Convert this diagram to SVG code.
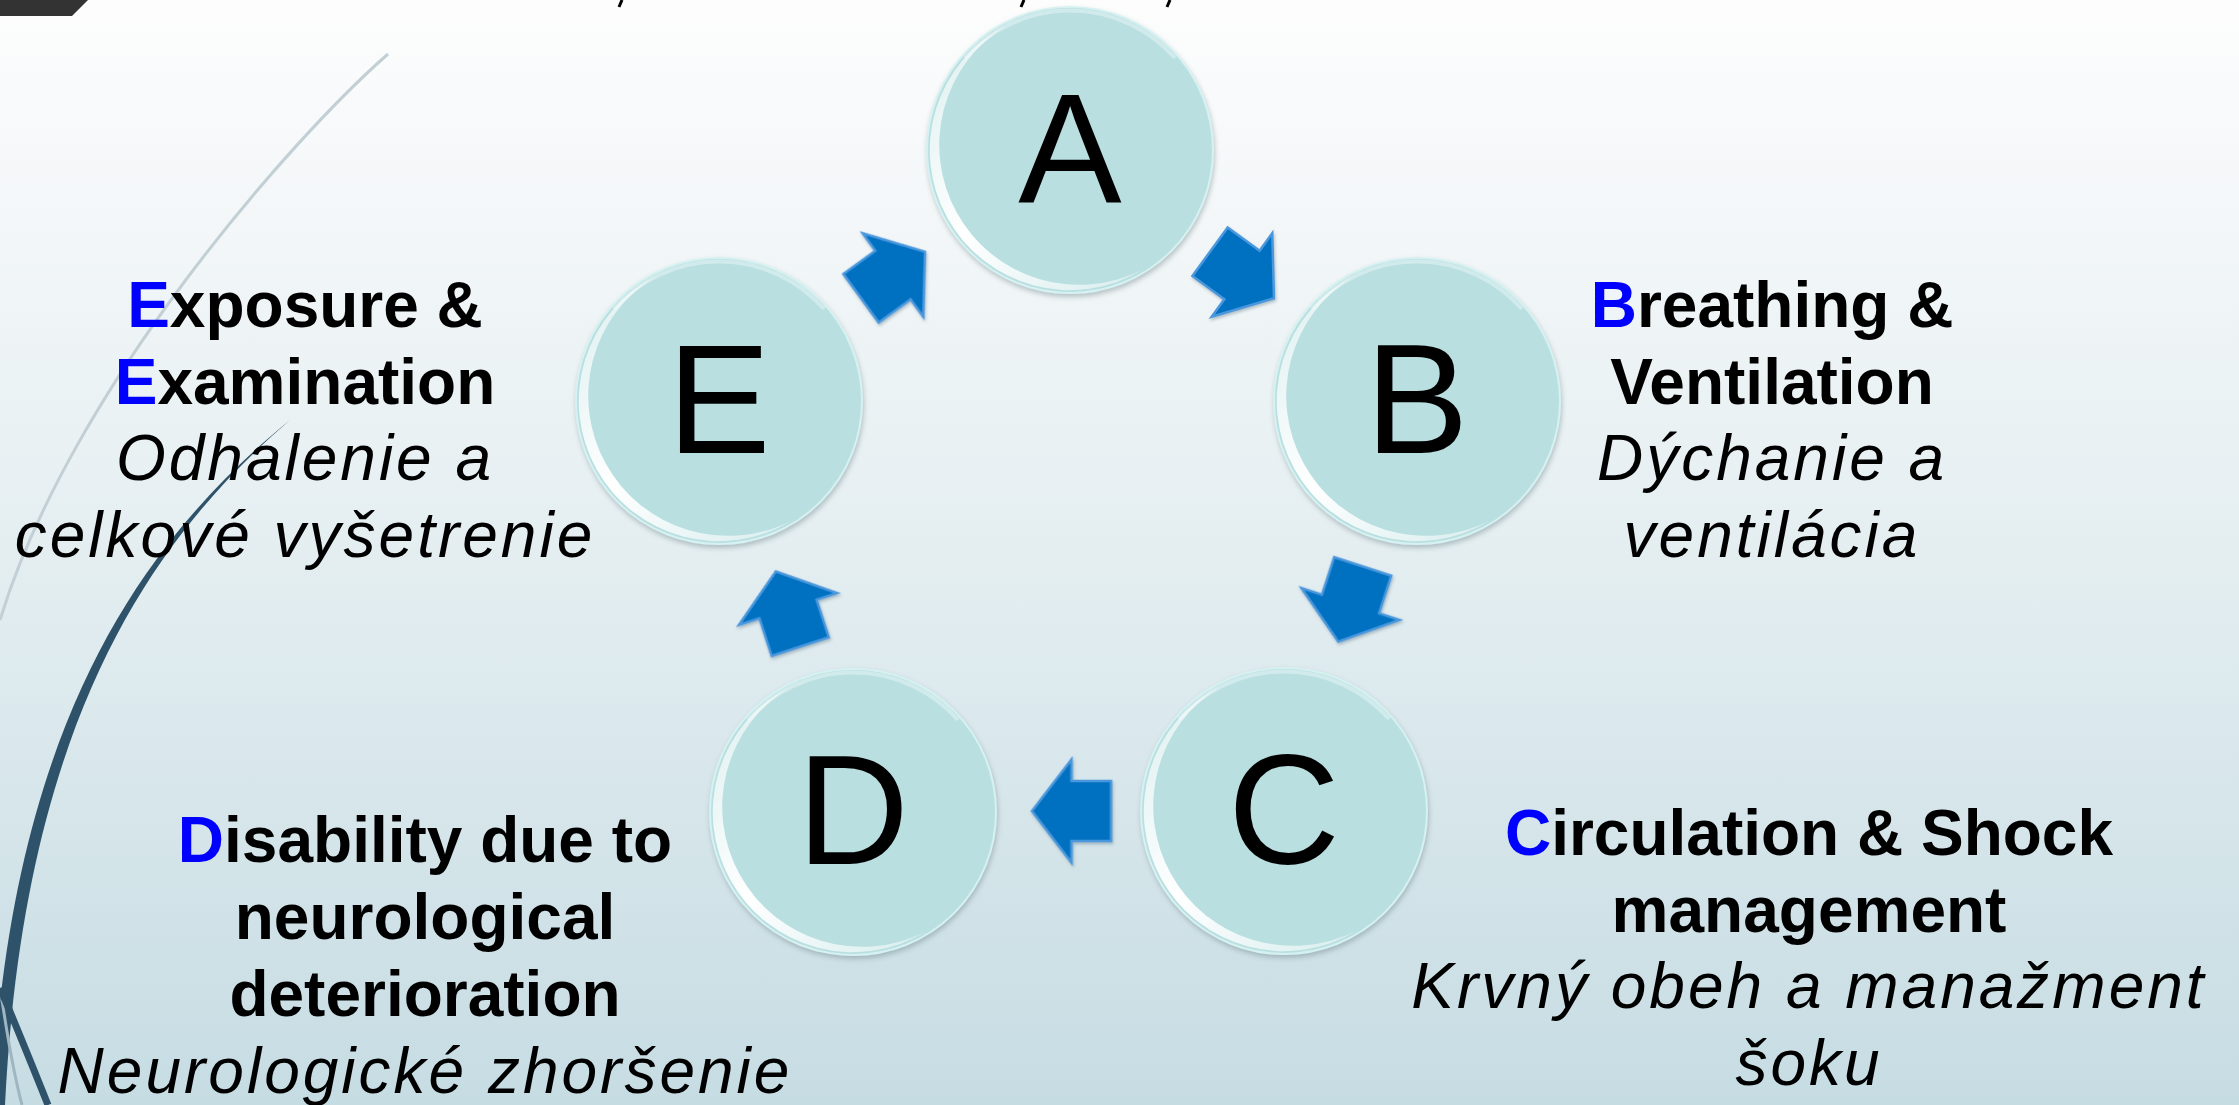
<svg xmlns="http://www.w3.org/2000/svg" xmlns:xlink="http://www.w3.org/1999/xlink" width="2239" height="1105" viewBox="0 0 2239 1105">
  <defs>
    <linearGradient id="bg" x1="0" y1="0" x2="0" y2="1">
      <stop offset="0" stop-color="#fdfdfd"/>
      <stop offset="0.12" stop-color="#f7f9fa"/>
      <stop offset="0.5" stop-color="#e4eef1"/>
      <stop offset="1" stop-color="#c6dce3"/>
    </linearGradient>
    <linearGradient id="crescentGrad" gradientUnits="userSpaceOnUse" x1="-140" y1="-70" x2="70" y2="140">
      <stop offset="0" stop-color="#ffffff" stop-opacity="0.6"/>
      <stop offset="0.45" stop-color="#ffffff" stop-opacity="1"/>
      <stop offset="1" stop-color="#ffffff" stop-opacity="0.45"/>
    </linearGradient>
    <filter id="shadow" x="-20%" y="-20%" width="140%" height="140%">
      <feDropShadow dx="1" dy="3" stdDeviation="2.5" flood-color="#6f8489" flood-opacity="0.45"/>
    </filter>
    <filter id="ashadow" x="-30%" y="-30%" width="160%" height="160%">
      <feDropShadow dx="1" dy="2" stdDeviation="1.5" flood-color="#3d5a6b" flood-opacity="0.35"/>
    </filter>
    <g id="bubble">
      <circle r="143" fill="#b9dfe0" stroke="#d6f1f1" stroke-width="2" filter="url(#shadow)"/>
      <path d="M -63.44 -124.79 A 140 140 0 1 0 72.44 119.79 A 140 140 0 0 1 -63.44 -124.79 Z" fill="url(#crescentGrad)"/>
      <path d="M -105 -92 A 140 140 0 0 1 105 -92" fill="none" stroke="#ffffff" stroke-opacity="0.35" stroke-width="4"/>
    </g>
    <path id="arrow" d="M -39.5 -30 L 0 -30 L 0 -51.5 L 39.5 0 L 0 51.5 L 0 30 L -39.5 30 Z"/>
  </defs>
  <style>
    .letter { font-family: "Liberation Sans", Arial, sans-serif; font-size: 155px; fill: #000000; text-anchor: middle; }
    .lb { font-family: "Liberation Sans", Arial, sans-serif; font-size: 64px; font-weight: bold; fill: #000000; text-anchor: middle; }
    .li { font-family: "Liberation Sans", Arial, sans-serif; font-size: 64px; font-style: italic; fill: #000000; text-anchor: middle; letter-spacing: 3px; }
    .blue { fill: #0000ff; }
    .arr { fill: #0070c0; stroke: #4a97dc; stroke-width: 2.5; stroke-linejoin: miter; }
  </style>

  <!-- background -->
  <rect x="0" y="0" width="2239" height="1105" fill="url(#bg)"/>

  <!-- decorative theme lines -->
  <g id="decor">
    <polygon points="0,0 88,0 72,16 0,16" fill="#333333"/>
    <path d="M 388 54 C 290 140, 70 390, 0 620" fill="none" stroke="#c2d0d6" stroke-width="3"/>
    <path d="M 290 420 C 150 541, 24 722, 5 1105 L -8 1105 C 10 720, 146 538, 290 420 Z" fill="#2e5269"/>
    <path d="M 2 1000 C 8 1040, 14 1075, 22 1105" fill="none" stroke="#9fb6c1" stroke-width="3"/>
    <path d="M 0 988 C 18 1030, 34 1070, 48 1105" fill="none" stroke="#2e5269" stroke-width="7"/>
    <line x1="622" y1="0" x2="619" y2="7" stroke="#000" stroke-width="3"/>
    <line x1="1024" y1="0" x2="1021" y2="7" stroke="#000" stroke-width="3"/>
    <line x1="1170" y1="0" x2="1167" y2="7" stroke="#000" stroke-width="3"/>
  </g>

  <!-- connectors -->
  <g id="connectors" filter="url(#ashadow)">
    <use xlink:href="#arrow" class="arr" transform="translate(1242 275) rotate(36)"/>
    <use xlink:href="#arrow" class="arr" transform="translate(1350.5 604) rotate(108)"/>
    <use xlink:href="#arrow" class="arr" transform="translate(1071.5 811) rotate(180)"/>
    <use xlink:href="#arrow" class="arr" transform="translate(788 609) rotate(252)"/>
    <use xlink:href="#arrow" class="arr" transform="translate(893 275) rotate(-36)"/>
  </g>

  <!-- nodes -->
  <g id="node-A">
    <use xlink:href="#bubble" transform="translate(1070 150)"/>
    <text class="letter" x="1070" y="202">A</text>
  </g>

  <g id="node-B">
    <use xlink:href="#bubble" transform="translate(1417 401)"/>
    <text class="letter" x="1417" y="453">B</text>
    <text class="lb" x="1772" y="327"><tspan class="blue">B</tspan>reathing &amp;</text>
    <text class="lb" x="1772" y="404">Ventilation</text>
    <text class="li" x="1772" y="480">Dýchanie a</text>
    <text class="li" x="1772" y="557">ventilácia</text>
  </g>

  <g id="node-C">
    <use xlink:href="#bubble" transform="translate(1284 811)"/>
    <text class="letter" x="1284" y="863">C</text>
    <text class="lb" x="1809" y="855"><tspan class="blue">C</tspan>irculation &amp; Shock</text>
    <text class="lb" x="1809" y="932">management</text>
    <text class="li" x="1809" y="1008">Krvný obeh a manažment</text>
    <text class="li" x="1809" y="1085">šoku</text>
  </g>

  <g id="node-D">
    <use xlink:href="#bubble" transform="translate(853 812)"/>
    <text class="letter" x="853" y="864">D</text>
    <text class="lb" x="425" y="862"><tspan class="blue">D</tspan>isability due to</text>
    <text class="lb" x="425" y="939">neurological</text>
    <text class="lb" x="425" y="1016">deterioration</text>
    <text class="li" x="425" y="1093">Neurologické zhoršenie</text>
  </g>

  <g id="node-E">
    <use xlink:href="#bubble" transform="translate(719 401)"/>
    <text class="letter" x="719" y="453">E</text>
    <text class="lb" x="305" y="327"><tspan class="blue">E</tspan>xposure &amp;</text>
    <text class="lb" x="305" y="404"><tspan class="blue">E</tspan>xamination</text>
    <text class="li" x="305" y="480">Odhalenie a</text>
    <text class="li" x="305" y="557">celkové vyšetrenie</text>
  </g>
</svg>
